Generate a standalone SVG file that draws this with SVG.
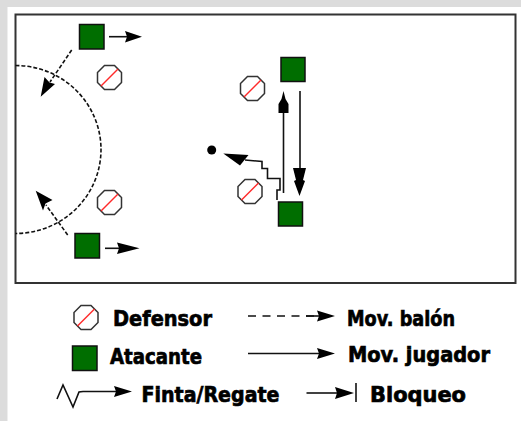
<svg xmlns="http://www.w3.org/2000/svg" width="521" height="421" viewBox="0 0 521 421">
<style>
.court{fill:#fff;stroke:#333;stroke-width:2}
.att{fill:#006e00;stroke:#111;stroke-width:1.5}
.oct{fill:#fff;stroke:#333;stroke-width:1.5}
.red{stroke:#ff2a2a;stroke-width:1.5}
.ln{fill:none;stroke:#111;stroke-width:1.6}
.dash{fill:none;stroke:#111;stroke-width:1.6;stroke-dasharray:4 2}
.ah{fill:#000}
.lbl{font-family:"DejaVu Sans","Liberation Sans",sans-serif;font-weight:bold;font-size:21px;fill:#000;stroke:#000;stroke-width:0.7}
</style>
<defs>
<g id="defn">
<polygon class="oct" points="12,5 5,12 -5,12 -12,5 -12,-5 -5,-12 5,-12 12,-5"/>
<line class="red" x1="-8.5" y1="8.5" x2="8.5" y2="-8.5"/>
</g>
</defs>
<rect x="0" y="0" width="521" height="421" fill="#dcdcdc"/>
<rect x="7.5" y="7" width="514" height="414" fill="#fff"/>
<rect class="court" x="15.5" y="14.5" width="500" height="268.5"/>
<path id="area" class="dash" d="M15.5,65.5 A85.5,84 0 0 1 15.5,233.5"/>

<g id="connectors">
<line class="ln" x1="109" y1="36.7" x2="128" y2="36.7"/>
<polygon class="ah" points="142,36.7 125,31 127,36.7 125,42.5"/>
<line class="ln" x1="105" y1="248.3" x2="120" y2="248.3"/>
<polygon class="ah" points="139.5,248.3 117,242.5 119,248.3 117,254"/>
<line class="dash" x1="71.7" y1="50" x2="50" y2="82"/>
<polygon class="ah" points="40.7,96.7 44.5,77 49.5,82.5 55,84"/>
<line class="dash" x1="67.7" y1="235" x2="46" y2="205"/>
<polygon class="ah" points="35.7,190.7 52.5,200 45.5,203.5 43,210.5"/>
<line class="ln" x1="283.5" y1="193" x2="283.5" y2="110"/>
<polygon class="ah" points="283.5,91 285.5,99 288.5,104 288.5,113 278.5,113 278.5,104 281.5,99"/>
<line class="ln" x1="300" y1="91" x2="300" y2="172"/>
<polygon class="ah" points="293,168 306,168 303,180 305,181 299.5,196 294,181 296,180"/>
<path class="ln" d="M277,200 V190 H280 V178.5 H267.5 V168.5 H262 V161.5 L245,160"/>
<polygon class="ah" points="223.3,153.5 248.5,155 240,165.5"/>
</g>

<g id="ball"><circle cx="211.7" cy="150" r="4.5" fill="#000"/></g>
<g id="att1"><rect class="att" x="79.5" y="24.5" width="24.5" height="24.5"/></g>
<g id="att2"><rect class="att" x="75" y="233.5" width="24.5" height="24.5"/></g>
<g id="att3"><rect class="att" x="281" y="57.5" width="24" height="24"/></g>
<g id="att4"><rect class="att" x="278.5" y="202" width="24" height="24"/></g>
<g id="def1"><use href="#defn" x="109.5" y="77.5"/></g>
<g id="def2"><use href="#defn" x="109.5" y="202.5"/></g>
<g id="def3"><use href="#defn" x="252.5" y="88.5"/></g>
<g id="def4"><use href="#defn" x="250" y="191.5"/></g>

<g id="legend">
<use href="#defn" x="86" y="317.5"/>
<text class="lbl" x="113" y="325.5" textLength="99" lengthAdjust="spacingAndGlyphs">Defensor</text>
<line class="ln" x1="248" y1="316" x2="318" y2="316" stroke-dasharray="8 6.5"/>
<line class="ln" x1="306" y1="316" x2="320" y2="316"/>
<polygon class="ah" points="335,316 317,310.5 319,316 317,321.5"/>
<text class="lbl" x="347" y="325.5" textLength="108" lengthAdjust="spacingAndGlyphs">Mov. balón</text>
<rect class="att" x="72.5" y="346" width="24.5" height="24.5"/>
<text class="lbl" x="110" y="364" textLength="92" lengthAdjust="spacingAndGlyphs">Atacante</text>
<line class="ln" x1="248" y1="353.5" x2="320" y2="353.5"/>
<polygon class="ah" points="335,353.5 317,348 319,353.5 317,359"/>
<text class="lbl" x="348" y="361.5" textLength="142" lengthAdjust="spacingAndGlyphs">Mov. jugador</text>
<path class="ln" d="M57,399 L63,385 L73,407 L79,392 L83,391.5 H118"/>
<polygon class="ah" points="132,391.5 114,386 116,391.5 114,397"/>
<text class="lbl" x="141.5" y="401.5" textLength="138" lengthAdjust="spacingAndGlyphs">Finta/Regate</text>
<line class="ln" x1="306.5" y1="393" x2="338" y2="393"/>
<polygon class="ah" points="354,393 335,387 337,393 335,399"/>
<line class="ln" x1="356" y1="383" x2="356" y2="402"/>
<text class="lbl" x="370" y="401.5" textLength="96" lengthAdjust="spacingAndGlyphs">Bloqueo</text>
</g>
</svg>
